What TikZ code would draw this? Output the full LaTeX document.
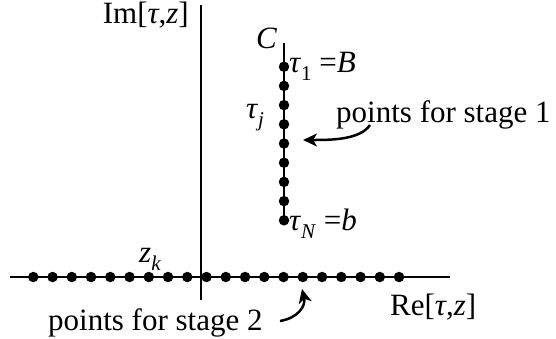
\documentclass[tikz,border=0pt]{standalone}
\usepackage{fontspec}
\setmainfont{Liberation Serif}
\usetikzlibrary{arrows.meta}
\newcommand{\ssub}[1]{\raisebox{-0.28em}{\fontsize{21}{21}\selectfont #1}}
\begin{document}
\begin{tikzpicture}[x=1pt,y=-1pt,
  axis/.style={line width=2.5pt},
  dot/.style={circle,fill=black,inner sep=0pt,minimum size=10.5pt},
  lbl/.style={inner sep=0pt,font=\fontsize{31}{36}\selectfont},
  arr/.style={line width=2.5pt,-{Stealth[length=14pt,width=13pt,inset=4pt]}}]
\useasboundingbox (0,0) rectangle (556,338);
% axes
\coordinate (ytop) at (201,5);
\coordinate (ybot) at (201,300);
\coordinate (xl) at (10,277);
\coordinate (xr) at (450,277);
\coordinate (ctop) at (284,43);
\coordinate (cbot) at (284,220);
\draw[axis] (ytop) -- (ybot);
\draw[axis] (xl) -- (xr);
\draw[axis] (ctop) -- (cbot);
% dots
\foreach \i in {0,...,8} \node[dot] (v\i) at (284,{66.7+19.2*\i}) {};
\foreach \i in {0,...,19} \node[dot] (h\i) at ({33.3+19.25*\i},277) {};
% labels
\node[lbl,anchor=base east] (im) at (189,23) {Im[\textit{τ},\textit{z}]};
\node[lbl,anchor=base west] (c) at (256,48) {\textit{C}};
\node[lbl,anchor=base west] (t1) at (289,72) {\textit{τ}\ssub{1} =\textit{B}};
\node[lbl,anchor=base west] (tj) at (246,118) {\textit{τ}\ssub{\textit{j}}};
\node[lbl,anchor=base west] (tn) at (289,230) {\textit{τ}\ssub{\textit{N}} =\textit{b}};
\node[lbl,anchor=base west] (zk) at (139,262) {\textit{z}\ssub{\textit{k}}};
\node[lbl,anchor=base west] (s1) at (336,122) {points for stage 1};
\node[lbl,anchor=base west] (s2) at (48,330) {points for stage 2};
\node[lbl,anchor=base west] (re) at (390,315) {Re[\textit{τ},\textit{z}]};
% arrows
\coordinate (a1s) at (370,125);
\coordinate (a1e) at (303,140);
\coordinate (a2s) at (280,321);
\coordinate (a2e) at (302,289);
\draw[arr] (a1s) .. controls (360,140) and (330,140) .. (a1e);
\draw[arr] (a2s) .. controls (298,318) and (306,306) .. (a2e);
\end{tikzpicture}
\end{document}
